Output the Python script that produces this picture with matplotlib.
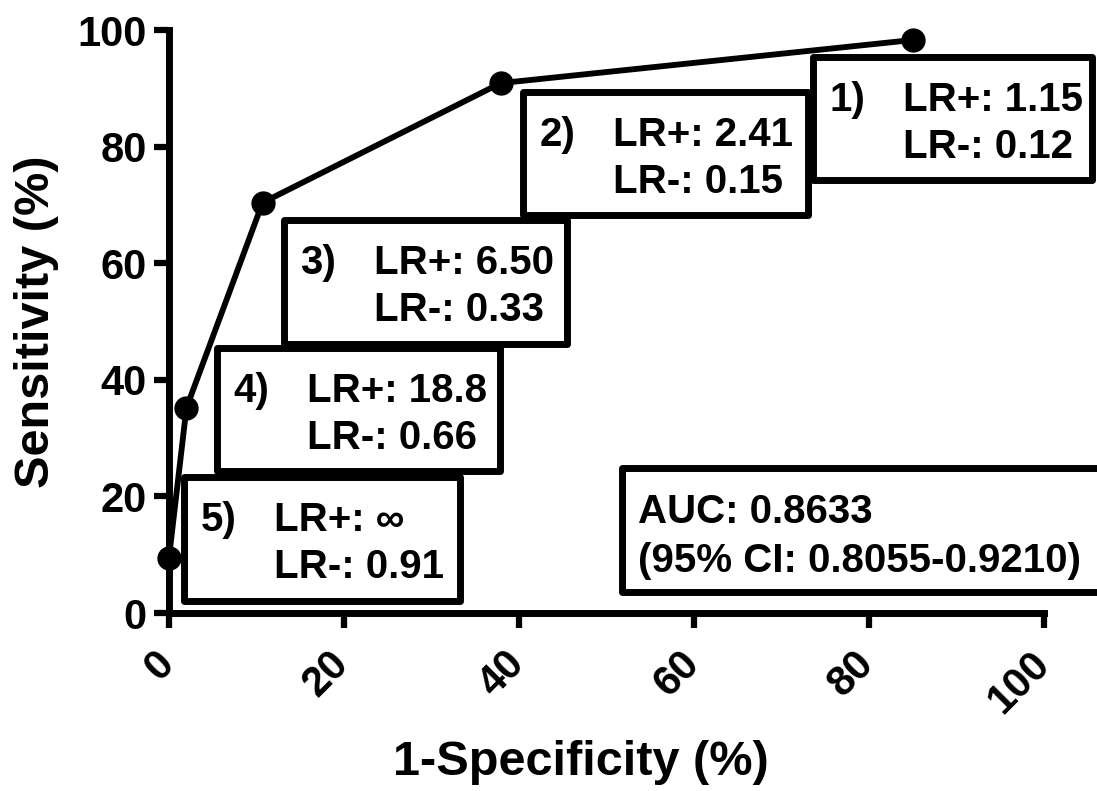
import matplotlib
matplotlib.use('Agg')
import matplotlib.pyplot as plt
from matplotlib.patches import Rectangle
from matplotlib.transforms import ScaledTranslation

plt.rcParams['font.family'] = ['Liberation Sans', 'DejaVu Sans']
plt.rcParams['font.weight'] = 'bold'

# ROC points (1-specificity, sensitivity), in %
fpr = [0, 2.0, 10.7, 37.9, 85.0]
sens = [9.4, 35.2, 70.4, 90.9, 98.3]

# cut-off labels and likelihood ratios
cut_ids = ['1)', '2)', '3)', '4)', '5)']
lr_pos = ['1.15', '2.41', '6.50', '18.8', '\u221e']
lr_neg = ['0.12', '0.15', '0.33', '0.66', '0.91']

auc_lines = ['AUC: 0.8633', '(95% CI: 0.8055-0.9210)']

# box layout: left, top, width (data units)
box_pos = [(73.6, 95.4, 31.9), (40.4, 89.4, 32.6), (13.1, 67.4, 32.4),
           (5.5, 45.5, 32.3), (1.7, 23.3, 31.6)]
box_h = 21.2

fig = plt.figure(figsize=(10.97, 7.91), dpi=100)
ax = fig.add_axes([0.154, 0.225, 0.798, 0.737])

ax.plot(fpr, sens, color='black', lw=4.2, marker='o', ms=16.5, clip_on=False, zorder=5)

ax.set_xlim(0, 100)
ax.set_ylim(0, 100)
ax.set_xticks(range(0, 101, 20))
ax.set_yticks(range(0, 101, 20))
for s in ['top', 'right']:
    ax.spines[s].set_visible(False)
for s in ['left', 'bottom']:
    ax.spines[s].set_linewidth(5)
ax.tick_params(width=4.5, length=11, labelsize=30, pad=5)
ax.tick_params(axis='x', pad=11)
for lab in ax.get_xticklabels():
    lab.set_rotation(45)
    lab.set_ha('right')
    lab.set_fontweight('bold')
    lab.set_transform(lab.get_transform() + ScaledTranslation(0.13, 0, fig.dpi_scale_trans))
for lab in ax.get_yticklabels():
    lab.set_fontweight('bold')

ax.set_xlabel('1-Specificity (%)', fontsize=35, fontweight='bold', va='center')
ax.set_ylabel('Sensitivity (%)', fontsize=35, fontweight='bold', va='center')
ax.xaxis.set_label_coords(0.471, -0.257)
ax.yaxis.set_label_coords(-0.151, 0.5)

for i, (x0, top, w) in enumerate(box_pos):
    ax.add_patch(Rectangle((x0, top - box_h), w, box_h, facecolor='white', edgecolor='black',
                           lw=5, joinstyle='round', clip_on=False, zorder=3))
    ax.text(x0 + 1.9, top - 9.3, cut_ids[i], fontsize=29, fontweight='bold',
            va='baseline', ha='left', zorder=4)
    ax.text(x0 + 10.3, top - 9.3, 'LR+: ' + lr_pos[i], fontsize=29, fontweight='bold',
            va='baseline', ha='left', zorder=4)
    ax.text(x0 + 10.3, top - 17.3, 'LR-: ' + lr_neg[i], fontsize=29, fontweight='bold',
            va='baseline', ha='left', zorder=4)

ax.add_patch(Rectangle((51.8, 3.6), 54.6, 21.3, facecolor='white', edgecolor='black',
                       lw=5, joinstyle='round', clip_on=False, zorder=3))
ax.text(53.6, 24.9 - 9.4, auc_lines[0], fontsize=29, fontweight='bold',
        va='baseline', ha='left', zorder=4)
ax.text(53.6, 24.9 - 17.8, auc_lines[1], fontsize=29, fontweight='bold',
        va='baseline', ha='left', zorder=4)

fig.savefig('out.png', dpi=100)
